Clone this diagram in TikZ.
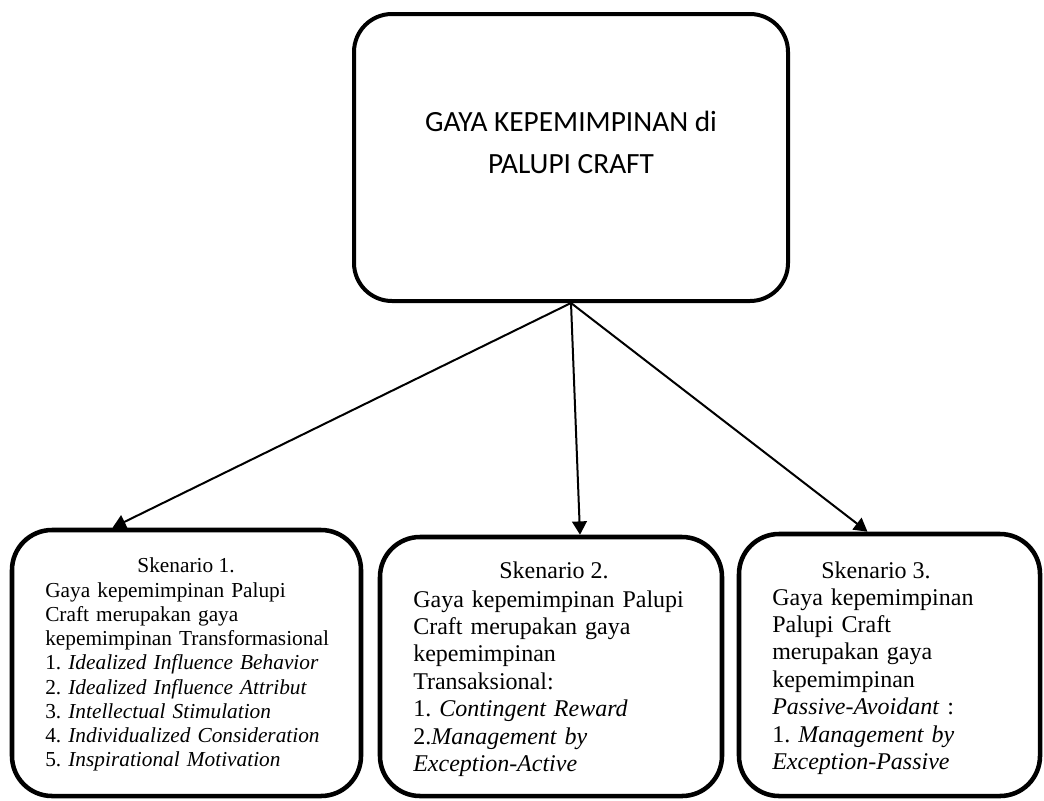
\documentclass[tikz,border=0pt]{standalone}
\usepackage{fontspec}
\setmainfont{Liberation Serif}
\newfontfamily\calibrifont{Carlito}
\usetikzlibrary{arrows.meta}
\frenchspacing
\tikzset{
  box/.style={draw=black, line width=3.4pt, rounded corners=30pt, inner sep=0pt},
  topbox/.style={box, line width=3pt, rounded corners=28.5pt},
  link/.style={line width=1.5pt, -{Triangle[length=10pt,width=11pt]}},
  toptext/.style={font=\calibrifont\fontsize{22}{31.5}\selectfont, align=center, inner sep=0pt},
  smalltext/.style={font=\fontsize{16}{18.2}\selectfont\frenchspacing, align=left, text width=250pt, inner sep=0pt, anchor=base west},
  bigtext/.style={font=\fontsize{18}{20.6}\selectfont\frenchspacing, align=left, text width=230pt, inner sep=0pt, anchor=base west},
  smalltitle/.style={font=\fontsize{16}{18.2}\selectfont, inner sep=0pt, anchor=base},
  bigtitle/.style={font=\fontsize{18}{20.6}\selectfont, inner sep=0pt, anchor=base},
}
\begin{document}
\begin{tikzpicture}[x=0.75pt, y=-0.75pt]
\useasboundingbox (0,0) rectangle (1044,800);
% top box
\node[topbox, minimum width=325.5pt, minimum height=215.25pt] (top) at (571,157.5) {};
\node[toptext, anchor=base] (toplabel) at (571,173) {GAYA KEPEMIMPINAN di\\PALUPI CRAFT};
% bottom boxes
\node[box, minimum width=261.75pt, minimum height=199.5pt] (b1) at (186.5,663) {};
\node[box, minimum width=256.5pt, minimum height=194.25pt] (b2) at (551,666.5) {};
\node[box, minimum width=225.75pt, minimum height=196.5pt] (b3) at (889.5,665) {};
% texts
\node[smalltitle] (t1) at (186,572) {Skenario 1.};
\node[smalltext] (x1) at (45,597) {Gaya kepemimpinan Palupi\\Craft merupakan gaya\\kepemimpinan Transformasional\\1. \textit{Idealized Influence Behavior}\\2. \textit{Idealized Influence Attribut}\\3. \textit{Intellectual Stimulation}\\4. \textit{Individualized Consideration}\\5. \textit{Inspirational Motivation}};
\node[bigtitle] (t2) at (554,578) {Skenario 2.};
\node[bigtext] (x2) at (413,607) {Gaya kepemimpinan Palupi\\Craft merupakan gaya\\kepemimpinan\\Transaksional:\\1. \textit{Contingent Reward}\\2.\textit{Management by}\\\textit{Exception-Active}};
\node[bigtitle] (t3) at (876,578) {Skenario 3.};
\node[bigtext] (x3) at (772,605) {Gaya kepemimpinan\\Palupi Craft\\merupakan gaya\\kepemimpinan\\\textit{Passive-Avoidant} :\\1. \textit{Management by}\\\textit{Exception-Passive}};
% connectors
\draw[link] (top.south) -- ([xshift=-55.5pt]b1.north);
\draw[link] (top.south) -- ([xshift=21.75pt]b2.north);
\draw[link] (top.south) -- ([xshift=-16.5pt]b3.north);
\end{tikzpicture}
\end{document}
